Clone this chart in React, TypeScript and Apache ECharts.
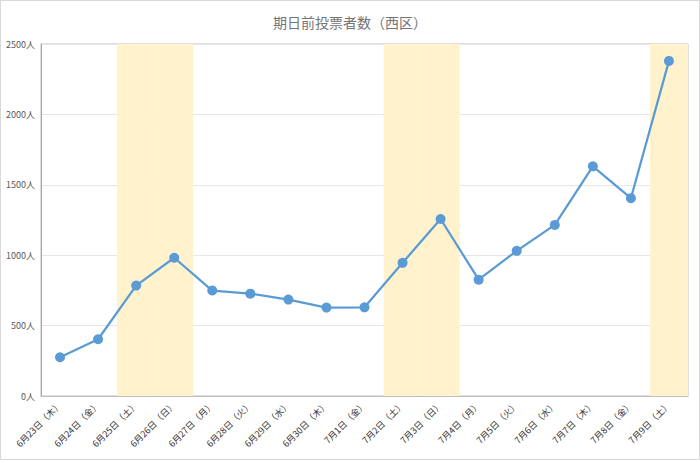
import { useEffect, useRef } from 'react';
import * as echarts from 'echarts';

const categories = [
  '6月23日（木）', '6月24日（金）', '6月25日（土）', '6月26日（日）', '6月27日（月）',
  '6月28日（火）', '6月29日（水）', '6月30日（木）', '7月1日（金）', '7月2日（土）',
  '7月3日（日）', '7月4日（月）', '7月5日（火）', '7月6日（水）', '7月7日（木）',
  '7月8日（金）', '7月9日（土）',
];
const voters = [275, 403, 784, 982, 749, 727, 685, 628, 630, 946, 1257, 826, 1031, 1215, 1631, 1405, 2380];
// 1 = 土日（背景を塗る）
const weekend = [0, 0, 1, 1, 0, 0, 0, 0, 0, 1, 1, 0, 0, 0, 0, 0, 1];

export default function App() {
  const ref = useRef<HTMLDivElement>(null);

  useEffect(() => {
    document.body.style.margin = '0';
    if (!ref.current) return;
    const chart = echarts.init(ref.current, undefined, { renderer: 'svg' });
    chart.setOption({
      animation: false,
      backgroundColor: '#fff',
      textStyle: { fontFamily: '"Noto Sans CJK JP", "Noto Sans", sans-serif' },
      title: {
        text: '期日前投票者数（西区）',
        left: 'center',
        top: 9,
        textStyle: { fontSize: 14, fontWeight: 'normal', color: '#757575' },
      },
      grid: { left: 40, right: 11, top: 43, bottom: 63, show: true, borderColor: '#BFBFBF', borderWidth: 1 },
      xAxis: {
        type: 'category',
        data: categories,
        axisTick: { show: false },
        axisLine: { lineStyle: { color: '#BFBFBF' } },
        axisLabel: { rotate: 45, interval: 0, fontSize: 9, color: '#333333', margin: 7 },
      },
      yAxis: [
        {
          type: 'value',
          min: 0,
          max: 2500,
          interval: 500,
          axisLine: { show: true, lineStyle: { color: '#A6A6A6' } },
          axisLabel: { formatter: (v: number) => `${v}人`, fontSize: 9, color: '#595959', margin: 6 },
          splitLine: { lineStyle: { color: '#E6E6E6' } },
        },
        { type: 'value', min: 0, max: 1, show: false },
      ],
      series: [
        {
          type: 'bar',
          yAxisIndex: 1,
          data: weekend,
          barWidth: '100%',
          itemStyle: { color: '#FFF2CC' },
          silent: true,
          z: 1,
        },
        {
          type: 'line',
          data: voters,
          symbol: 'circle',
          symbolSize: 10,
          lineStyle: { color: '#5B9BD5', width: 2.25 },
          itemStyle: { color: '#5B9BD5' },
          z: 5,
        },
      ],
    });
    return () => chart.dispose();
  }, []);

  return (
    <div
      ref={ref}
      style={{ width: 700, height: 460, boxSizing: 'border-box', border: '1px solid #D9D9D9' }}
    />
  );
}
